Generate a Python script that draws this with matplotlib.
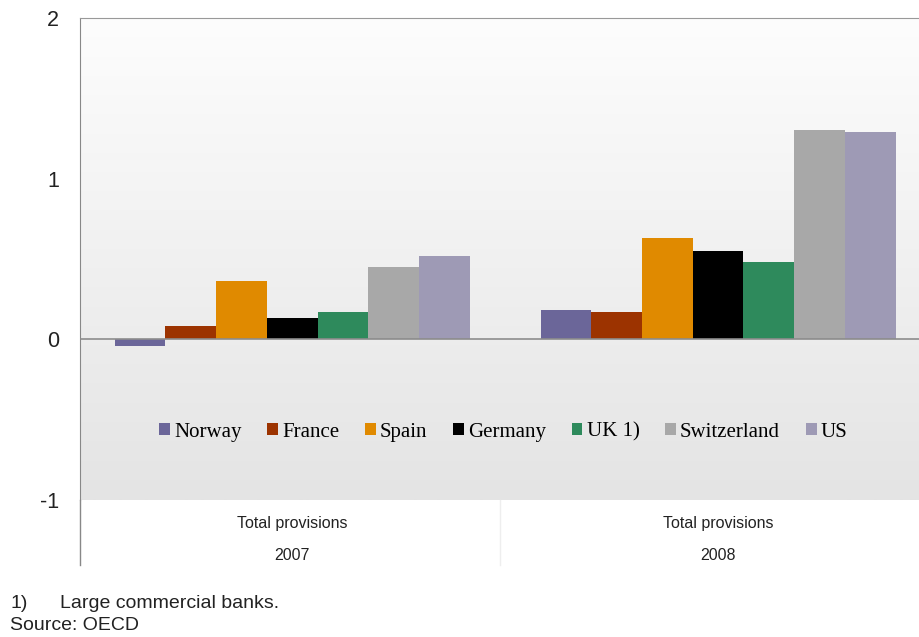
import numpy as np
import matplotlib
matplotlib.use("Agg")
from matplotlib import pyplot as plt
from matplotlib.patches import Patch

# data
years = ["2007", "2008"]
category = "Total provisions"
countries = ["Norway", "France", "Spain", "Germany", "UK 1)", "Switzerland", "US"]
values_2007 = [-0.04, 0.08, 0.36, 0.13, 0.17, 0.45, 0.52]
values_2008 = [0.18, 0.17, 0.63, 0.55, 0.48, 1.30, 1.29]
colors = ["#6b6699", "#9c3300", "#e08a00", "#000000", "#2e8a5c", "#a8a8a8", "#9e9ab5"]
yticks = [-1, 0, 1, 2]

plt.rcParams['font.family'] = ['Liberation Sans', 'DejaVu Sans']

fig = plt.figure(figsize=(9.2, 6.37), dpi=100)
ax = fig.add_axes([0.087, 0.215, 0.913, 0.757])

# gradient background
grad = np.linspace(0, 1, 256).reshape(-1, 1)
cmap = matplotlib.colors.LinearSegmentedColormap.from_list("bg", ["#e4e4e4", "#fdfdfd"])
ax.imshow(grad, extent=[0, 1, 0, 1], transform=ax.transAxes, cmap=cmap,
          aspect="auto", origin="lower", zorder=0)

x = np.arange(len(years))
width = 0.119
data = np.array([values_2007, values_2008])
for i, (name, c) in enumerate(zip(countries, colors)):
    ax.bar(x + (i - 3) * width, data[:, i], width, color=c, zorder=2)

ax.axhline(0, color="#8c8c8c", lw=1.2, zorder=3)

ax.set_xlim(-0.498, 1.474)
ax.set_ylim(-1, 2)
ax.set_yticks(yticks)
ax.set_yticklabels([str(v) for v in yticks], fontsize=15.5, color="#222222")
ax.tick_params(axis="y", length=0, pad=15)
ax.set_xticks(x)
ax.set_xticklabels([category + "\n" + y for y in years], fontsize=11.5,
                   linespacing=2.4, color="#222222")
ax.tick_params(axis="x", length=0, pad=11.5)

for side in ["right", "bottom"]:
    ax.spines[side].set_visible(False)
ax.spines["top"].set_color("#999999")
ax.spines["left"].set_color("#888888")

# extension of left axis line and separator under the plot
ax.plot([0, 0], [0, -0.135], transform=ax.transAxes, color="#888888",
        lw=1, clip_on=False)
ax.plot([0.5, 0.5], [0, -0.135], transform=ax.transAxes, color="#eeeeee",
        lw=1, clip_on=False)

handles = [Patch(facecolor=c, edgecolor="none") for c in colors]
ax.legend(handles, countries, loc="center", bbox_to_anchor=(0.504, 0.141),
          ncol=7, frameon=False, handlelength=0.5, handleheight=0.5,
          handletextpad=0.2, columnspacing=1.25,
          prop={"family": "Liberation Serif", "size": 15})

fig.text(0.011, 0.052, "1)", fontsize=14, color="#222222", va="center")
fig.text(0.065, 0.052, "Large commercial banks.", fontsize=14,
         color="#222222", va="center")
fig.text(0.011, 0.018, "Source: OECD", fontsize=14, color="#222222", va="center")

fig.savefig("out.png", dpi=100)
